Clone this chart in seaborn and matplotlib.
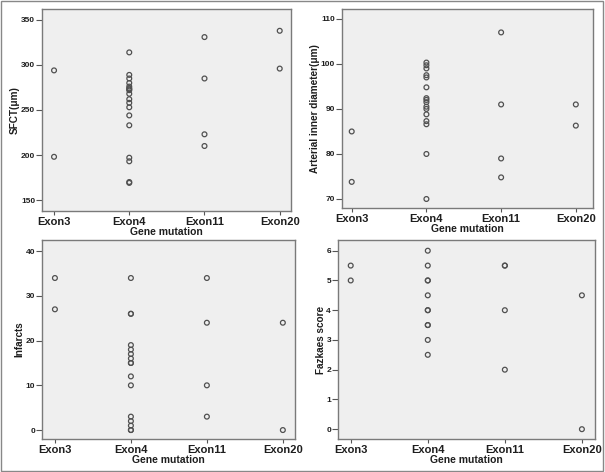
import numpy as np
import pandas as pd
import matplotlib
matplotlib.use("Agg")
import matplotlib.pyplot as plt
import seaborn as sns

# category order on every x axis
exons = ["Exon3", "Exon4", "Exon11", "Exon20"]

# SFCT(um) per gene mutation
sfct_exon3 = [294, 198]
sfct_exon4 = [314, 289, 285, 280, 276, 274, 273, 272, 268, 262, 258, 253, 244, 233, 197, 193, 170, 169]
sfct_exon11 = [331, 285, 223, 210]
sfct_exon20 = [338, 296]

# arterial inner diameter(um)
aid_exon3 = [85, 73.8]
aid_exon4 = [100.3, 99.7, 99, 97.5, 97, 94.8, 92.4, 92, 91.5, 90.5, 90, 88.8, 87.3, 86.6, 80, 70]
aid_exon11 = [107, 91, 79, 74.8]
aid_exon20 = [91, 86.3]

# infarcts
inf_exon3 = [34, 27]
inf_exon4 = [34, 26, 26, 19, 18, 17, 16, 15, 15, 12, 10, 3, 2, 1, 0, 0]
inf_exon11 = [34, 24, 10, 3]
inf_exon20 = [24, 0]

# Fazkaes score
faz_exon3 = [5.5, 5]
faz_exon4 = [6, 5.5, 5, 5, 4.5, 4, 4, 3.5, 3.5, 3, 2.5]
faz_exon11 = [5.5, 5.5, 4, 2]
faz_exon20 = [4.5, 0]


def make_df(a, b, c, d):
    rows = []
    for name, vals in zip(exons, [a, b, c, d]):
        for v in vals:
            rows.append((name, v))
    return pd.DataFrame(rows, columns=["exon", "val"])


sns.set_style("white")
plt.rcParams['font.family'] = ['Liberation Sans', 'DejaVu Sans']
plt.rcParams['font.weight'] = 'bold'

W, H = 605, 472
fig = plt.figure(figsize=(W / 100, H / 100), dpi=100)
fig.patch.set_facecolor("white")


def box(l, t, r, b):
    return [l / W, 1 - b / H, (r - l) / W, (b - t) / H]


panels = [
    (make_df(sfct_exon3, sfct_exon4, sfct_exon11, sfct_exon20), "SFCT(μm)",
     box(42, 9, 291, 211), (137.8, 362.2), [150, 200, 250, 300, 350], (-0.16, 3.15)),
    (make_df(aid_exon3, aid_exon4, aid_exon11, aid_exon20), "Arterial inner diameter(μm)",
     box(342, 9, 593, 208), (68, 112.2), [70, 80, 90, 100, 110], (-0.13, 3.23)),
    (make_df(inf_exon3, inf_exon4, inf_exon11, inf_exon20), "Infarcts",
     box(42, 240, 295, 439), (-2, 42.5), [0, 10, 20, 30, 40], (-0.17, 3.16)),
    (make_df(faz_exon3, faz_exon4, faz_exon11, faz_exon20), "Fazkaes score",
     box(338, 240, 595, 439), (-0.33, 6.36), [0, 1, 2, 3, 4, 5, 6], (-0.165, 3.17)),
]

for df, ylab, pos, ylim, yt, xlim in panels:
    ax = fig.add_axes(pos)
    ax.set_facecolor("#efefef")
    sns.scatterplot(data=df, x="exon", y="val", ax=ax, marker="o", s=12,
                    facecolors="none", edgecolor="#505050", linewidth=0.9)
    ax.set_xlim(*xlim)
    ax.set_ylim(*ylim)
    ax.set_yticks(yt)
    ax.set_xlabel("Gene mutation", fontsize=7.5, fontweight="bold", color="#1e1e1e", labelpad=0)
    ax.set_ylabel(ylab, fontsize=7.2, fontweight="bold", color="#1e1e1e", labelpad=0.5)
    ax.tick_params(axis="x", labelsize=8, length=3, width=0.8, color="#555555", pad=1, bottom=True)
    ax.tick_params(axis="y", labelsize=6, length=4, width=0.8, color="#555555", pad=1, left=True)
    for lbl in ax.get_xticklabels() + ax.get_yticklabels():
        lbl.set_fontweight("bold")
        lbl.set_color("#1e1e1e")
    for sp in ax.spines.values():
        sp.set_color("#7a7a7a")
        sp.set_linewidth(1.0)

# outer frame around the whole picture
fig.add_artist(plt.Rectangle((0.002, 0.002), 0.995, 0.995, transform=fig.transFigure,
                             fill=False, edgecolor="#888888", linewidth=1.0))

fig.savefig("out.png", dpi=100)
